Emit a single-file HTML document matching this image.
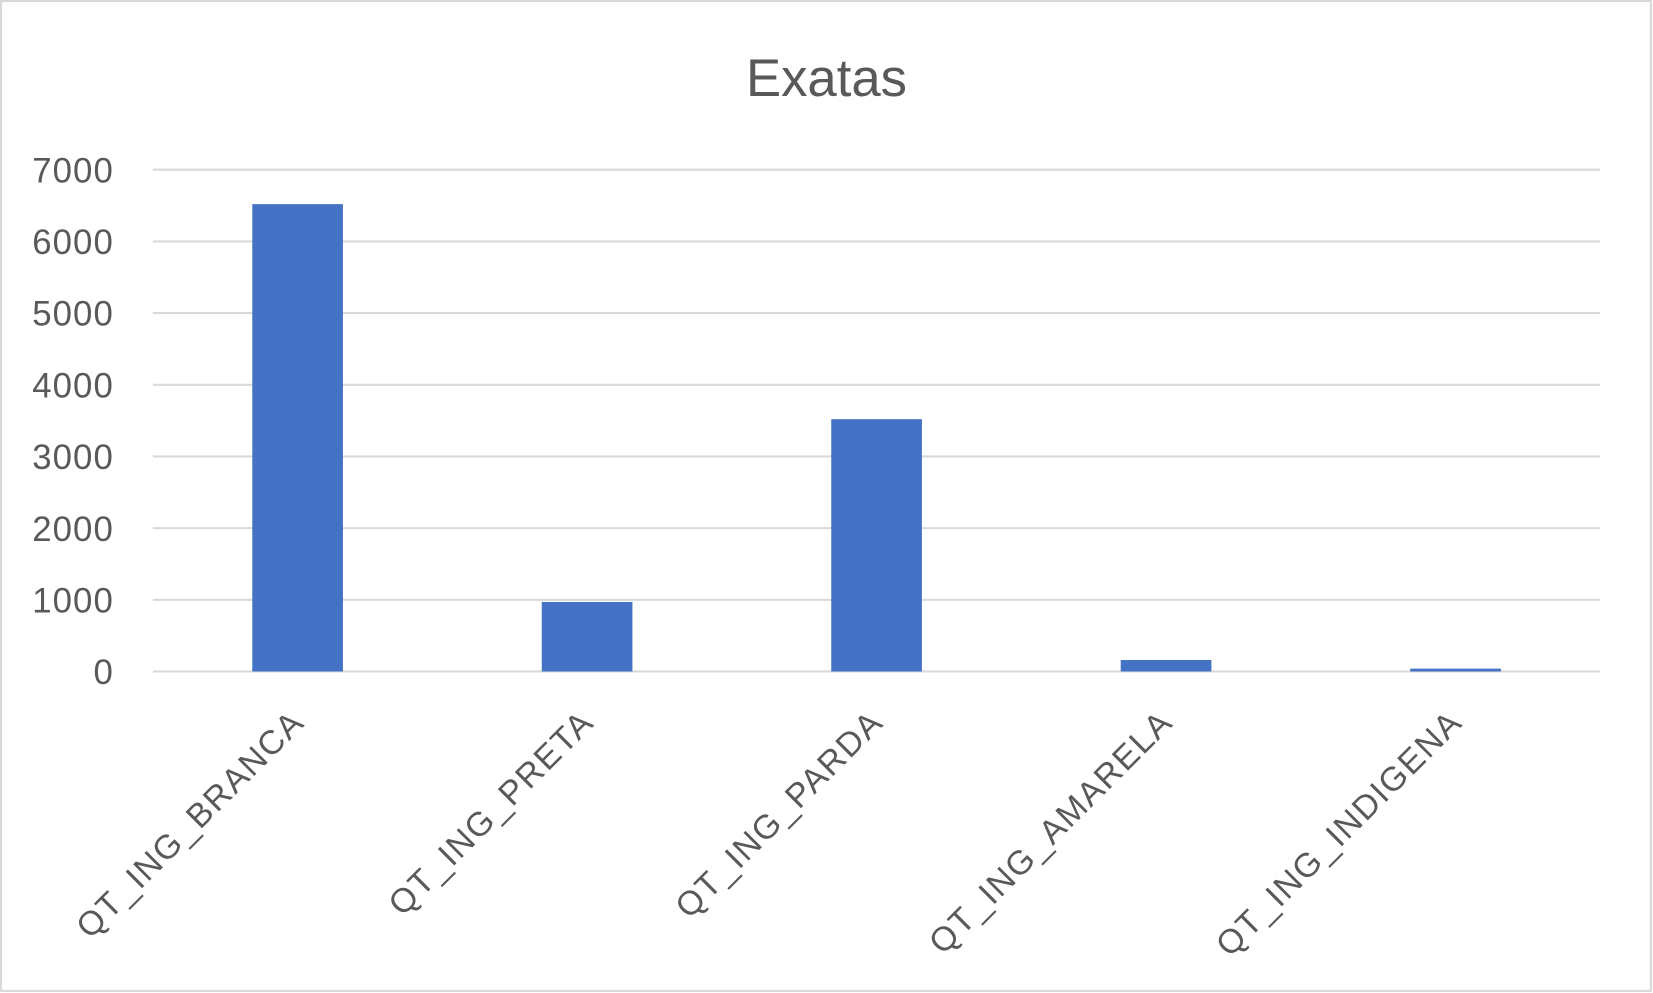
<!DOCTYPE html>
<html><head><meta charset="utf-8"><style>
html,body{margin:0;padding:0;background:#fff;}
svg{display:block;font-family:"Liberation Sans",sans-serif;}
</style></head><body>
<svg id="chart" width="1653" height="993" viewBox="0 0 1568 942" preserveAspectRatio="none" xmlns="http://www.w3.org/2000/svg">
<rect x="1" y="1" width="1565" height="939" fill="#fff" stroke="#d9d9d9" stroke-width="2"/>
<text x="784" y="91" text-anchor="middle" font-size="50" fill="#595959">Exatas</text>
<g id="grid"></g><g id="bars"></g><g id="xlabels"></g>
</svg>
<script>
const categories = ["QT_ING_BRANCA","QT_ING_PRETA","QT_ING_PARDA","QT_ING_AMARELA","QT_ING_INDIGENA"];
const values = [6520, 970, 3520, 160, 40];
const yTicks = [0,1000,2000,3000,4000,5000,6000,7000];
const NS="http://www.w3.org/2000/svg";
const x0=145,x1=1518,yTop=161,yBase=637,yMax=7000;
const y=v=>yBase-(v/yMax)*(yBase-yTop);
const band=(x1-x0)/categories.length;
const xc=i=>x0+band*(i+0.5);
const grid=document.getElementById('grid'),bars=document.getElementById('bars'),xl=document.getElementById('xlabels');
function mk(t,a){const e=document.createElementNS(NS,t);for(const k in a)e.setAttribute(k,a[k]);return e;}
yTicks.forEach(t=>{
  const l=mk('line',{x1:x0,x2:x1,y1:y(t),y2:y(t),stroke:'#d9d9d9','stroke-width':2});
  
  
  grid.appendChild(l);
  const tx=mk('text',{x:108,y:y(t)+12,'text-anchor':'end','font-size':33,fill:'#595959','letter-spacing':1});
  tx.textContent=t;
  
  
  grid.appendChild(tx);
});
categories.forEach((c,i)=>{
  const w=86;
  const r=mk('rect',{x:xc(i)-w/2,y:y(values[i]),width:w,height:yBase-y(values[i]),fill:'#4472c4'});
  
  
  bars.appendChild(r);
  const tx=mk('text',{x:0,y:0,'text-anchor':'end','font-size':32,fill:'#595959','letter-spacing':1.5,transform:`translate(${xc(i)+8},${yBase+50}) rotate(-45)`});
  tx.textContent=c;
  
  
  xl.appendChild(tx);
});
</script>
</body></html>
